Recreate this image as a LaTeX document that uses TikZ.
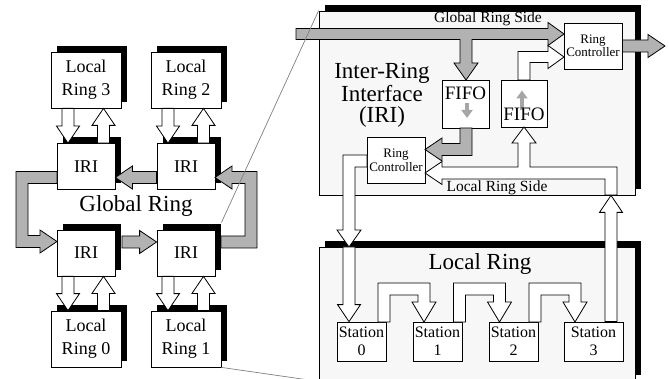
\documentclass[tikz,border=0pt]{standalone}
\usepackage{fontspec}
\setmainfont{Liberation Serif}
\usetikzlibrary{calc,shadows,arrows.meta}

\definecolor{grau}{gray}{0.7}
\definecolor{paneel}{gray}{0.97}
\definecolor{fifograu}{gray}{0.65}
\definecolor{lupe}{gray}{0.5}

\newcommand\boxfont{\fontsize{18}{23}\selectfont}
\newcommand\fifofont{\fontsize{19}{23}\selectfont}
\newcommand\titlefont{\fontsize{23}{21}\selectfont}
\newcommand\sidefont{\fontsize{15.5}{18}\selectfont}
\newcommand\stationfont{\fontsize{16}{18}\selectfont}
\newcommand\controllerfont{\fontsize{13}{13.5}\selectfont}
\newcommand\headlength{17pt}

% Blockpfeil von #2 nach #3
\newcommand\blockarrow[3][white]{
	\coordinate (ba-base) at ($(#3)!\headlength!(#2)$);
	\draw [fill = #1] ($(#2)!6pt!90:(#3)$) -- ($(ba-base)!6pt!-90:(#2)$) -- ($(ba-base)!11.5pt!-90:(#2)$) -- (#3)
		-- ($(ba-base)!11.5pt!90:(#2)$) -- ($(ba-base)!6pt!90:(#2)$) -- ($(#2)!6pt!-90:(#3)$) -- cycle;
}

\begin{document}
\begin{tikzpicture}[x = 1pt, y = -1pt, line width = 0.8pt,
	shadowbox/.style = {draw, fill = white, inner sep = 0pt, align = center, font = \boxfont,
		drop shadow = {shadow xshift = 6pt, shadow yshift = 6pt, fill = black, opacity = 1}},
	panel/.style = {draw, fill = paneel, inner sep = 0pt,
		drop shadow = {shadow xshift = 6pt, shadow yshift = 6pt, fill = black, opacity = 1}},
	box/.style = {draw, fill = white, inner sep = 0pt, align = center},
	fifoarrow/.style = {draw = fifograu, line width = 3.5pt, -{Triangle[width = 11pt, length = 8pt]}}
]
	\useasboundingbox (0, 0) rectangle (669, 379);
	\clip (0, 0) rectangle (669, 379);

	% Vergroesserungen:
	\node [panel, minimum width = 316pt, minimum height = 184pt] (iripanel) at (477, 103) {};
	\node [panel, minimum width = 316pt, minimum height = 134pt] (lrpanel) at (477, 314) {};

	% Globaler Ring, links
	\begin{scope}[minimum width = 70pt, minimum height = 56pt]
		\node [shadowbox] (lr3) at (86, 80) {Local\\Ring 3};
		\node [shadowbox] (lr2) at (186, 80) {Local\\Ring 2};
		\node [shadowbox] (lr0) at (86, 339) {Local\\Ring 0};
		\node [shadowbox] (lr1) at (186, 339) {Local\\Ring 1};
	\end{scope}
	\begin{scope}[minimum width = 58pt, minimum height = 46pt]
		\node [shadowbox] (iri3) at (86, 166.5) {IRI};
		\node [shadowbox] (iri2) at (186, 166.5) {IRI};
		\node [shadowbox] (iri0) at (86, 253) {IRI};
		\node [shadowbox] (iri1) at (186, 253) {IRI};
	\end{scope}
	\node [anchor = base, font = \titlefont] (globalring) at (136, 212) {Global Ring};

	\draw [fill = grau] (57, 171.5) -- (16, 171.5) -- (16, 247.5) -- (40, 247.5) -- (40, 253) -- (57, 241.5)
		-- (40, 230) -- (40, 235.5) -- (28, 235.5) -- (28, 183.5) -- (57, 183.5) -- cycle;
	\draw [fill = grau] (221, 236) -- (245, 236) -- (245, 183.5) -- (232, 183.5) -- (232, 189) -- (215, 177.5)
		-- (232, 166) -- (232, 171.5) -- (257, 171.5) -- (257, 248) -- (221, 248) -- cycle;
	\blockarrow[grau]{iri2.west |- 0,177.5}{iri3.east |- 0,177.5}
	\blockarrow[grau]{122,242}{iri1.west |- 0,242}

	\foreach \a/\b/\x in {lr3/iri3/68, lr2/iri2/168} {
		\blockarrow{\a.south -| \x,0}{\b.north -| \x,0}
		\blockarrow{\b.north -| \x+35.5,0}{\a.south -| \x+35.5,0}
	}
	\foreach \a/\b/\x in {iri0/lr0/68, iri1/lr1/168} {
		\blockarrow{\a.south -| \x,0}{\b.north -| \x,0}
		\blockarrow{\b.north -| \x+35.5,0}{\a.south -| \x+35.5,0}
	}

	% Inter-Ring Interface
	\node [font = \titlefont, align = center] (iritext) at (382, 95.4) {Inter-Ring\\Interface\\(IRI)};
	\node [anchor = base, font = \sidefont] (globalside) at (488, 23) {Global Ring Side};
	\node [anchor = base, font = \sidefont] (localside) at (497, 191.5) {Local Ring Side};
	\node [box, font = \fifofont, minimum width = 47pt, minimum height = 48pt, text height = 13.5pt, text depth = 21.5pt,
		path picture = {\draw [fifoarrow] ($(path picture bounding box.center) + (1.5, -1)$) -- ++(0, 15);}]
		(fifo1) at (465.5, 104) {FIFO};
	\node [box, font = \fifofont, minimum width = 46pt, minimum height = 47pt, text height = 35pt, text depth = 0pt,
		path picture = {\draw [fifoarrow] ($(path picture bounding box.center) + (-2, 7)$) -- ++(0, -20);}]
		(fifo2) at (524, 103.5) {FIFO};
	\begin{scope}[minimum width = 58pt, minimum height = 46pt, font = \controllerfont]
		\node [box] (ctlo) at (593, 46) {Ring\\Controller};
		\node [box] (ctlu) at (396, 160.5) {Ring\\Controller};
	\end{scope}

	\draw [fill = grau] (296, 28.5) -- (548, 28.5) -- (548, 22.5) -- (564, 34) -- (548, 45.5) -- (548, 39.5)
		-- (472, 39.5) -- (472, 63) -- (478, 63) -- (466, 80) -- (454, 63) -- (460, 63) -- (460, 39.5) -- (296, 39.5) -- cycle;
	\draw [fill = grau] (460, 128) -- (460, 143.5) -- (442, 143.5) -- (442, 138) -- (425, 149.5) -- (442, 161)
		-- (442, 155.5) -- (472, 155.5) -- (472, 128) -- cycle;
	\blockarrow[grau]{ctlo.east}{ctlo.east -| 665,0}
	\draw [fill = white] (518, 80) -- (518, 51.5) -- (548, 51.5) -- (548, 45.5) -- (564, 57) -- (548, 68.5)
		-- (548, 62.5) -- (530, 62.5) -- (530, 80) -- cycle;
	\draw [fill = white] (617, 195) -- (617, 167) -- (530, 167) -- (530, 143) -- (536, 143) -- (524, 127) -- (512, 143)
		-- (518, 143) -- (518, 167) -- (442, 167) -- (442, 161.5) -- (425, 173) -- (442, 184.5) -- (442, 179)
		-- (605, 179) -- (605, 195) -- cycle;
	\draw [fill = white] (367, 155) -- (343, 155) -- (343, 230) -- (337, 230) -- (349, 247) -- (361, 230)
		-- (355, 230) -- (355, 167) -- (367, 167) -- cycle;

	% Lokaler Ring
	\node [anchor = base, font = \titlefont] (localring) at (480, 270) {Local Ring};
	\foreach \n/\x/\w in {0/361.5/49, 1/437.5/49, 2/513.5/49, 3/593.5/59} {
		\node [box, font = \stationfont, minimum width = \w, minimum height = 39pt] (st\n) at (\x, 341.5) {Station\\\n};
	}
	\foreach \l in {378, 453.5, 529} {
		\draw [fill = white] (\l, 322) -- (\l, 283) -- (\l+52, 283) -- (\l+52, 302) -- (\l+58, 302) -- (\l+46, 322)
			-- (\l+34, 302) -- (\l+40, 302) -- (\l+40, 295) -- (\l+12, 295) -- (\l+12, 322) -- cycle;
	}
	\blockarrow{349,247}{st0.north -| 349,0}
	\blockarrow{st3.north -| 611,0}{iripanel.south -| 611,0}

	% Lupenlinien
	\draw [lupe, line width = 0.7pt] ($(iri1.north east) + (6, -7)$) -- (iripanel.north west);
	\draw [lupe, line width = 0.7pt] (lr1.south east) -- (lrpanel.south west);
\end{tikzpicture}
\end{document}
